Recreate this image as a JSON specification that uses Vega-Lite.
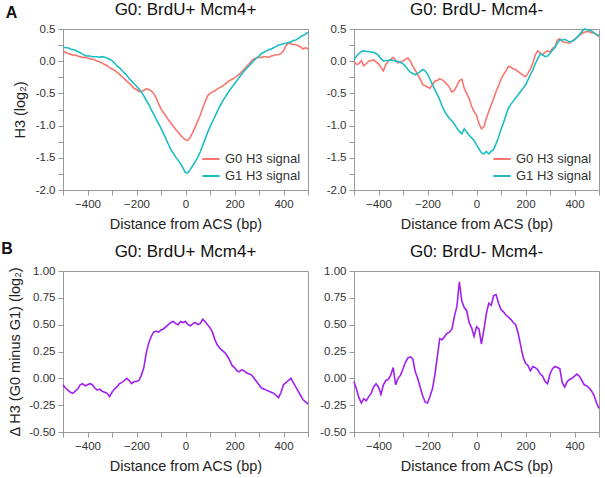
{
  "$schema": "https://vega.github.io/schema/vega-lite/v6.json",
  "padding": {"left": 1, "top": 0, "right": 5, "bottom": 5},
  "background": "white",
  "data": {"values": [
    {"x":-500,"a1g0":0.16,"a1g1":0.22,"a2g0":0.00,"a2g1":0.02,"b1":-0.06,"b2":-0.03},
    {"x":-490,"a1g0":0.14,"a1g1":0.21,"a2g0":-0.05,"a2g1":0.08,"b1":-0.09,"b2":-0.10},
    {"x":-480,"a1g0":0.12,"a1g1":0.21,"a2g0":-0.04,"a2g1":0.12,"b1":-0.11,"b2":-0.18},
    {"x":-470,"a1g0":0.11,"a1g1":0.19,"a2g0":0.01,"a2g1":0.15,"b1":-0.13,"b2":-0.23},
    {"x":-460,"a1g0":0.09,"a1g1":0.18,"a2g0":-0.07,"a2g1":0.16,"b1":-0.14,"b2":-0.19},
    {"x":-450,"a1g0":0.10,"a1g1":0.17,"a2g0":-0.04,"a2g1":0.15,"b1":-0.12,"b2":-0.21},
    {"x":-440,"a1g0":0.08,"a1g1":0.15,"a2g0":0.00,"a2g1":0.15,"b1":-0.10,"b2":-0.17},
    {"x":-430,"a1g0":0.07,"a1g1":0.13,"a2g0":0.01,"a2g1":0.14,"b1":-0.06,"b2":-0.14},
    {"x":-420,"a1g0":0.06,"a1g1":0.11,"a2g0":0.02,"a2g1":0.14,"b1":-0.05,"b2":-0.08},
    {"x":-410,"a1g0":0.06,"a1g1":0.09,"a2g0":-0.01,"a2g1":0.12,"b1":-0.07,"b2":-0.05},
    {"x":-400,"a1g0":0.05,"a1g1":0.08,"a2g0":-0.04,"a2g1":0.09,"b1":-0.06,"b2":-0.08},
    {"x":-390,"a1g0":0.04,"a1g1":0.08,"a2g0":-0.10,"a2g1":0.04,"b1":-0.05,"b2":-0.15},
    {"x":-380,"a1g0":0.03,"a1g1":0.07,"a2g0":-0.15,"a2g1":0.00,"b1":-0.06,"b2":-0.06},
    {"x":-370,"a1g0":0.02,"a1g1":0.07,"a2g0":-0.05,"a2g1":0.01,"b1":-0.09,"b2":-0.02},
    {"x":-360,"a1g0":0.00,"a1g1":0.07,"a2g0":0.00,"a2g1":0.01,"b1":-0.11,"b2":-0.01},
    {"x":-350,"a1g0":-0.01,"a1g1":0.06,"a2g0":0.03,"a2g1":0.02,"b1":-0.10,"b2":0.03},
    {"x":-340,"a1g0":-0.03,"a1g1":0.07,"a2g0":0.06,"a2g1":0.01,"b1":-0.12,"b2":0.10},
    {"x":-330,"a1g0":-0.05,"a1g1":0.06,"a2g0":0.01,"a2g1":0.00,"b1":-0.13,"b2":-0.06},
    {"x":-320,"a1g0":-0.07,"a1g1":0.05,"a2g0":-0.03,"a2g1":0.00,"b1":-0.14,"b2":0.00},
    {"x":-310,"a1g0":-0.10,"a1g1":0.03,"a2g0":-0.01,"a2g1":-0.02,"b1":-0.17,"b2":0.03},
    {"x":-300,"a1g0":-0.12,"a1g1":0.01,"a2g0":0.00,"a2g1":-0.04,"b1":-0.13,"b2":0.09},
    {"x":-290,"a1g0":-0.14,"a1g1":-0.03,"a2g0":0.03,"a2g1":-0.08,"b1":-0.10,"b2":0.15},
    {"x":-280,"a1g0":-0.17,"a1g1":-0.07,"a2g0":0.05,"a2g1":-0.13,"b1":-0.08,"b2":0.19},
    {"x":-270,"a1g0":-0.20,"a1g1":-0.10,"a2g0":0.00,"a2g1":-0.17,"b1":-0.05,"b2":0.20},
    {"x":-260,"a1g0":-0.24,"a1g1":-0.14,"a2g0":-0.08,"a2g1":-0.19,"b1":-0.04,"b2":0.18},
    {"x":-250,"a1g0":-0.27,"a1g1":-0.18,"a2g0":-0.14,"a2g1":-0.21,"b1":-0.02,"b2":0.06},
    {"x":-240,"a1g0":-0.31,"a1g1":-0.22,"a2g0":-0.21,"a2g1":-0.19,"b1":0.00,"b2":0.00},
    {"x":-230,"a1g0":-0.34,"a1g1":-0.27,"a2g0":-0.28,"a2g1":-0.16,"b1":-0.02,"b2":-0.08},
    {"x":-220,"a1g0":-0.38,"a1g1":-0.31,"a2g0":-0.36,"a2g1":-0.13,"b1":-0.05,"b2":-0.16},
    {"x":-210,"a1g0":-0.42,"a1g1":-0.35,"a2g0":-0.38,"a2g1":-0.15,"b1":-0.03,"b2":-0.22},
    {"x":-200,"a1g0":-0.44,"a1g1":-0.39,"a2g0":-0.40,"a2g1":-0.20,"b1":-0.03,"b2":-0.23},
    {"x":-190,"a1g0":-0.47,"a1g1":-0.43,"a2g0":-0.42,"a2g1":-0.28,"b1":-0.02,"b2":-0.17},
    {"x":-180,"a1g0":-0.47,"a1g1":-0.48,"a2g0":-0.37,"a2g1":-0.36,"b1":0.03,"b2":-0.10},
    {"x":-170,"a1g0":-0.45,"a1g1":-0.54,"a2g0":-0.31,"a2g1":-0.44,"b1":0.10,"b2":0.03},
    {"x":-160,"a1g0":-0.43,"a1g1":-0.61,"a2g0":-0.30,"a2g1":-0.52,"b1":0.24,"b2":0.20},
    {"x":-150,"a1g0":-0.44,"a1g1":-0.67,"a2g0":-0.27,"a2g1":-0.60,"b1":0.33,"b2":0.37},
    {"x":-140,"a1g0":-0.46,"a1g1":-0.75,"a2g0":-0.29,"a2g1":-0.70,"b1":0.39,"b2":0.36},
    {"x":-130,"a1g0":-0.50,"a1g1":-0.82,"a2g0":-0.32,"a2g1":-0.78,"b1":0.43,"b2":0.39},
    {"x":-120,"a1g0":-0.57,"a1g1":-0.90,"a2g0":-0.36,"a2g1":-0.84,"b1":0.44,"b2":0.42},
    {"x":-110,"a1g0":-0.66,"a1g1":-0.97,"a2g0":-0.41,"a2g1":-0.89,"b1":0.43,"b2":0.43},
    {"x":-100,"a1g0":-0.74,"a1g1":-1.04,"a2g0":-0.48,"a2g1":-0.93,"b1":0.45,"b2":0.46},
    {"x":-90,"a1g0":-0.80,"a1g1":-1.12,"a2g0":-0.45,"a2g1":-0.98,"b1":0.46,"b2":0.58},
    {"x":-80,"a1g0":-0.85,"a1g1":-1.20,"a2g0":-0.38,"a2g1":-1.04,"b1":0.48,"b2":0.67},
    {"x":-70,"a1g0":-0.91,"a1g1":-1.29,"a2g0":-0.30,"a2g1":-1.09,"b1":0.50,"b2":0.90},
    {"x":-60,"a1g0":-0.96,"a1g1":-1.37,"a2g0":-0.28,"a2g1":-1.13,"b1":0.52,"b2":0.72},
    {"x":-50,"a1g0":-1.01,"a1g1":-1.43,"a2g0":-0.42,"a2g1":-1.05,"b1":0.53,"b2":0.66},
    {"x":-40,"a1g0":-1.06,"a1g1":-1.49,"a2g0":-0.50,"a2g1":-1.10,"b1":0.51,"b2":0.63},
    {"x":-30,"a1g0":-1.10,"a1g1":-1.54,"a2g0":-0.58,"a2g1":-1.15,"b1":0.50,"b2":0.52},
    {"x":-20,"a1g0":-1.15,"a1g1":-1.59,"a2g0":-0.70,"a2g1":-1.19,"b1":0.53,"b2":0.47},
    {"x":-10,"a1g0":-1.19,"a1g1":-1.66,"a2g0":-0.78,"a2g1":-1.23,"b1":0.52,"b2":0.39},
    {"x":0,"a1g0":-1.22,"a1g1":-1.73,"a2g0":-0.84,"a2g1":-1.30,"b1":0.53,"b2":0.48},
    {"x":10,"a1g0":-1.23,"a1g1":-1.73,"a2g0":-0.97,"a2g1":-1.36,"b1":0.50,"b2":0.46},
    {"x":20,"a1g0":-1.18,"a1g1":-1.68,"a2g0":-1.05,"a2g1":-1.42,"b1":0.49,"b2":0.32},
    {"x":30,"a1g0":-1.10,"a1g1":-1.62,"a2g0":-1.02,"a2g1":-1.44,"b1":0.51,"b2":0.45},
    {"x":40,"a1g0":-1.02,"a1g1":-1.56,"a2g0":-0.89,"a2g1":-1.40,"b1":0.52,"b2":0.60},
    {"x":50,"a1g0":-0.93,"a1g1":-1.49,"a2g0":-0.78,"a2g1":-1.44,"b1":0.50,"b2":0.70},
    {"x":60,"a1g0":-0.84,"a1g1":-1.41,"a2g0":-0.68,"a2g1":-1.40,"b1":0.51,"b2":0.68},
    {"x":70,"a1g0":-0.73,"a1g1":-1.31,"a2g0":-0.58,"a2g1":-1.37,"b1":0.55,"b2":0.77},
    {"x":80,"a1g0":-0.63,"a1g1":-1.21,"a2g0":-0.47,"a2g1":-1.28,"b1":0.53,"b2":0.78},
    {"x":90,"a1g0":-0.54,"a1g1":-1.11,"a2g0":-0.38,"a2g1":-1.18,"b1":0.50,"b2":0.70},
    {"x":100,"a1g0":-0.50,"a1g1":-1.02,"a2g0":-0.28,"a2g1":-1.06,"b1":0.47,"b2":0.64},
    {"x":110,"a1g0":-0.48,"a1g1":-0.94,"a2g0":-0.21,"a2g1":-0.96,"b1":0.43,"b2":0.62},
    {"x":120,"a1g0":-0.46,"a1g1":-0.86,"a2g0":-0.15,"a2g1":-0.84,"b1":0.36,"b2":0.59},
    {"x":130,"a1g0":-0.43,"a1g1":-0.78,"a2g0":-0.08,"a2g1":-0.73,"b1":0.31,"b2":0.57},
    {"x":140,"a1g0":-0.41,"a1g1":-0.70,"a2g0":-0.09,"a2g1":-0.67,"b1":0.28,"b2":0.55},
    {"x":150,"a1g0":-0.39,"a1g1":-0.63,"a2g0":-0.12,"a2g1":-0.62,"b1":0.26,"b2":0.52},
    {"x":160,"a1g0":-0.36,"a1g1":-0.57,"a2g0":-0.13,"a2g1":-0.57,"b1":0.24,"b2":0.50},
    {"x":170,"a1g0":-0.33,"a1g1":-0.51,"a2g0":-0.16,"a2g1":-0.52,"b1":0.21,"b2":0.42},
    {"x":180,"a1g0":-0.30,"a1g1":-0.45,"a2g0":-0.19,"a2g1":-0.47,"b1":0.17,"b2":0.31},
    {"x":190,"a1g0":-0.28,"a1g1":-0.40,"a2g0":-0.22,"a2g1":-0.42,"b1":0.12,"b2":0.20},
    {"x":200,"a1g0":-0.26,"a1g1":-0.35,"a2g0":-0.24,"a2g1":-0.37,"b1":0.10,"b2":0.14},
    {"x":210,"a1g0":-0.23,"a1g1":-0.30,"a2g0":-0.19,"a2g1":-0.29,"b1":0.07,"b2":0.12},
    {"x":220,"a1g0":-0.20,"a1g1":-0.25,"a2g0":-0.12,"a2g1":-0.21,"b1":0.06,"b2":0.07},
    {"x":230,"a1g0":-0.16,"a1g1":-0.20,"a2g0":-0.03,"a2g1":-0.13,"b1":0.08,"b2":0.11},
    {"x":240,"a1g0":-0.12,"a1g1":-0.15,"a2g0":0.10,"a2g1":-0.04,"b1":0.07,"b2":0.10},
    {"x":250,"a1g0":-0.08,"a1g1":-0.11,"a2g0":0.16,"a2g1":0.04,"b1":0.05,"b2":0.08},
    {"x":260,"a1g0":-0.04,"a1g1":-0.07,"a2g0":0.13,"a2g1":0.11,"b1":0.04,"b2":0.04},
    {"x":270,"a1g0":0.01,"a1g1":-0.03,"a2g0":0.10,"a2g1":0.10,"b1":0.03,"b2":0.02},
    {"x":280,"a1g0":0.04,"a1g1":0.01,"a2g0":0.14,"a2g1":0.07,"b1":0.00,"b2":-0.03},
    {"x":290,"a1g0":0.05,"a1g1":0.05,"a2g0":0.16,"a2g1":0.08,"b1":-0.03,"b2":-0.05},
    {"x":300,"a1g0":0.06,"a1g1":0.08,"a2g0":0.14,"a2g1":0.12,"b1":-0.06,"b2":0.04},
    {"x":310,"a1g0":0.06,"a1g1":0.12,"a2g0":0.20,"a2g1":0.17,"b1":-0.09,"b2":0.09},
    {"x":320,"a1g0":0.07,"a1g1":0.14,"a2g0":0.22,"a2g1":0.21,"b1":-0.10,"b2":0.11},
    {"x":330,"a1g0":0.07,"a1g1":0.16,"a2g0":0.33,"a2g1":0.28,"b1":-0.11,"b2":0.10},
    {"x":340,"a1g0":0.06,"a1g1":0.18,"a2g0":0.35,"a2g1":0.33,"b1":-0.12,"b2":0.09},
    {"x":350,"a1g0":0.08,"a1g1":0.19,"a2g0":0.31,"a2g1":0.33,"b1":-0.13,"b2":-0.04},
    {"x":360,"a1g0":0.09,"a1g1":0.21,"a2g0":0.29,"a2g1":0.34,"b1":-0.14,"b2":-0.08},
    {"x":370,"a1g0":0.10,"a1g1":0.23,"a2g0":0.29,"a2g1":0.32,"b1":-0.16,"b2":-0.03},
    {"x":380,"a1g0":0.10,"a1g1":0.25,"a2g0":0.28,"a2g1":0.30,"b1":-0.18,"b2":-0.01},
    {"x":390,"a1g0":0.12,"a1g1":0.26,"a2g0":0.31,"a2g1":0.31,"b1":-0.13,"b2":0.00},
    {"x":400,"a1g0":0.16,"a1g1":0.27,"a2g0":0.34,"a2g1":0.33,"b1":-0.06,"b2":0.02},
    {"x":410,"a1g0":0.24,"a1g1":0.28,"a2g0":0.37,"a2g1":0.37,"b1":-0.04,"b2":0.04},
    {"x":420,"a1g0":0.28,"a1g1":0.29,"a2g0":0.40,"a2g1":0.41,"b1":-0.02,"b2":0.02},
    {"x":430,"a1g0":0.27,"a1g1":0.30,"a2g0":0.43,"a2g1":0.46,"b1":0.00,"b2":-0.02},
    {"x":440,"a1g0":0.26,"a1g1":0.32,"a2g0":0.45,"a2g1":0.50,"b1":-0.04,"b2":-0.06},
    {"x":450,"a1g0":0.26,"a1g1":0.33,"a2g0":0.46,"a2g1":0.49,"b1":-0.08,"b2":-0.07},
    {"x":460,"a1g0":0.24,"a1g1":0.35,"a2g0":0.46,"a2g1":0.48,"b1":-0.12,"b2":-0.09},
    {"x":470,"a1g0":0.22,"a1g1":0.38,"a2g0":0.44,"a2g1":0.47,"b1":-0.16,"b2":-0.12},
    {"x":480,"a1g0":0.19,"a1g1":0.40,"a2g0":0.44,"a2g1":0.44,"b1":-0.20,"b2":-0.16},
    {"x":490,"a1g0":0.21,"a1g1":0.42,"a2g0":0.41,"a2g1":0.41,"b1":-0.22,"b2":-0.23},
    {"x":500,"a1g0":0.19,"a1g1":0.45,"a2g0":0.38,"a2g1":0.40,"b1":-0.24,"b2":-0.28}
  ]},
  "spacing": 8,
  "vconcat": [
    {
      "title": {"text": "A", "anchor": "start", "fontWeight": "bold", "fontSize": 16, "offset": -20, "dx": -6},
      "bounds": "flush",
      "spacing": 46,
      "resolve": {"scale": {"color": "independent"}, "legend": {"color": "independent"}},
      "hconcat": [
        {
          "width": 245, "height": 161,
          "title": "G0: BrdU+ Mcm4+",
          "transform": [{"fold": ["a1g0", "a1g1"], "as": ["s", "v"]}],
          "mark": {"type": "line", "strokeWidth": 1.6},
          "encoding": {
            "x": {"field": "x", "type": "quantitative", "scale": {"domain": [-500, 500], "nice": false}, "axis": {"values": [-500,-400,-300,-200,-100,0,100,200,300,400,500], "labelExpr": "datum.value % 200 == 0 ? datum.label : ''", "title": "Distance from ACS (bp)"}},
            "y": {"field": "v", "type": "quantitative", "scale": {"domain": [-2, 0.5], "nice": false}, "axis": {"values": [-2,-1.75,-1.5,-1.25,-1,-0.75,-0.5,-0.25,0,0.25,0.5], "labelExpr": "abs(datum.value*2 - round(datum.value*2)) < 0.001 ? replace(format(datum.value, '.1f'), '\u2212', '-') : ''", "title": "H3 (log\u2082)", "titlePadding": 8}},
            "color": {"field": "s", "type": "nominal", "scale": {"domain": ["a1g0", "a1g1"], "range": ["#f8766d", "#1cbec4"]}, "legend": {"title": null, "orient": "bottom-right", "offset": 7, "symbolType": "stroke", "symbolSize": 300, "symbolStrokeWidth": 2, "labelFontSize": 13, "labelColor": "#333", "labelOffset": 4, "rowPadding": 0, "labelExpr": "indexof(datum.label, 'g0') >= 0 ? 'G0 H3 signal' : 'G1 H3 signal'"}}
          }
        },
        {
          "width": 245, "height": 161,
          "title": "G0: BrdU- Mcm4-",
          "transform": [{"fold": ["a2g0", "a2g1"], "as": ["s", "v"]}],
          "mark": {"type": "line", "strokeWidth": 1.6},
          "encoding": {
            "x": {"field": "x", "type": "quantitative", "scale": {"domain": [-500, 500], "nice": false}, "axis": {"values": [-500,-400,-300,-200,-100,0,100,200,300,400,500], "labelExpr": "datum.value % 200 == 0 ? datum.label : ''", "title": "Distance from ACS (bp)"}},
            "y": {"field": "v", "type": "quantitative", "scale": {"domain": [-2, 0.5], "nice": false}, "axis": {"values": [-2,-1.75,-1.5,-1.25,-1,-0.75,-0.5,-0.25,0,0.25,0.5], "labelExpr": "abs(datum.value*2 - round(datum.value*2)) < 0.001 ? replace(format(datum.value, '.1f'), '\u2212', '-') : ''", "title": null}},
            "color": {"field": "s", "type": "nominal", "scale": {"domain": ["a2g0", "a2g1"], "range": ["#f8766d", "#1cbec4"]}, "legend": {"title": null, "orient": "bottom-right", "offset": 7, "symbolType": "stroke", "symbolSize": 300, "symbolStrokeWidth": 2, "labelFontSize": 13, "labelColor": "#333", "labelOffset": 4, "rowPadding": 0, "labelExpr": "indexof(datum.label, 'g0') >= 0 ? 'G0 H3 signal' : 'G1 H3 signal'"}}
          }
        }
      ]
    },
    {
      "title": {"text": "B", "anchor": "start", "fontWeight": "bold", "fontSize": 16, "offset": -14, "dx": -6},
      "bounds": "flush",
      "spacing": 46,
      "hconcat": [
        {
          "width": 245, "height": 161,
          "title": "G0: BrdU+ Mcm4+",
          "mark": {"type": "line", "strokeWidth": 1.6, "color": "#a020f0"},
          "encoding": {
            "x": {"field": "x", "type": "quantitative", "scale": {"domain": [-500, 500], "nice": false}, "axis": {"values": [-500,-400,-300,-200,-100,0,100,200,300,400,500], "labelExpr": "datum.value % 200 == 0 ? datum.label : ''", "title": "Distance from ACS (bp)"}},
            "y": {"field": "b1", "type": "quantitative", "scale": {"domain": [-0.5, 1], "nice": false}, "axis": {"values": [-0.5,-0.25,0,0.25,0.5,0.75,1], "labelExpr": "replace(format(datum.value, '.2f'), '\u2212', '-')", "title": "\u0394 H3 (G0 minus G1) (log\u2082)", "titlePadding": 6}}
          }
        },
        {
          "width": 245, "height": 161,
          "title": "G0: BrdU- Mcm4-",
          "mark": {"type": "line", "strokeWidth": 1.6, "color": "#a020f0"},
          "encoding": {
            "x": {"field": "x", "type": "quantitative", "scale": {"domain": [-500, 500], "nice": false}, "axis": {"values": [-500,-400,-300,-200,-100,0,100,200,300,400,500], "labelExpr": "datum.value % 200 == 0 ? datum.label : ''", "title": "Distance from ACS (bp)"}},
            "y": {"field": "b2", "type": "quantitative", "scale": {"domain": [-0.5, 1], "nice": false}, "axis": {"values": [-0.5,-0.25,0,0.25,0.5,0.75,1], "labelExpr": "replace(format(datum.value, '.2f'), '\u2212', '-')", "title": null}}
          }
        }
      ]
    }
  ],
  "config": {
    "font": "Liberation Sans",
    "view": {"stroke": "#999999", "strokeWidth": 1},
    "axis": {"grid": false, "domainColor": "#999999", "tickColor": "#999999", "tickSize": 5, "labelPadding": 3, "labelFontSize": 11.5, "labelColor": "#333333", "titleFontSize": 14.5, "titleFontWeight": "normal", "titleColor": "#222222"},
    "axisX": {"titlePadding": 8},
    "title": {"fontSize": 17, "fontWeight": "normal", "color": "#111111", "offset": 0}
  }
}
